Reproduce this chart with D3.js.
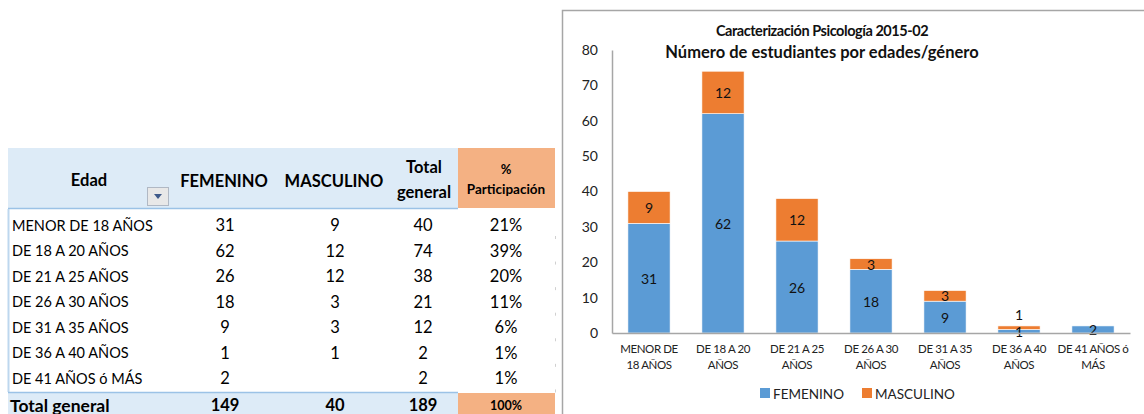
<!DOCTYPE html>
<html><head><meta charset="utf-8">
<script src="https://cdn.jsdelivr.net/npm/d3@7"></script>
<style>
html,body{margin:0;padding:0;background:#fff;}
svg{display:block;font-family:Lato,"Open Sans",sans-serif;}
</style></head>
<body><svg id="c" width="1144" height="414"></svg>
<script>
const categories = ["MENOR DE 18 AÑOS","DE 18 A 20 AÑOS","DE 21 A 25 AÑOS","DE 26 A 30 AÑOS","DE 31 A 35 AÑOS","DE 36 A 40 AÑOS","DE 41 AÑOS ó MÁS"];
const axisLabels = [["MENOR DE","18 AÑOS"],["DE 18 A 20","AÑOS"],["DE 21 A 25","AÑOS"],["DE 26 A 30","AÑOS"],["DE 31 A 35","AÑOS"],["DE 36 A 40","AÑOS"],["DE 41 AÑOS ó","MÁS"]];
const femenino = [31,62,26,18,9,1,2];
const masculino = [9,12,12,3,3,1,0];
const masculinoText = ["9","12","12","3","3","1",""];
const totals = [40,74,38,21,12,2,2];
const participacion = ["21%","39%","20%","11%","6%","1%","1%"];
const totalRow = ["Total general","149","40","189","100%"];
const yTicks = [0,10,20,30,40,50,60,70,80];
const seriesNames = ["FEMENINO","MASCULINO"];
const colors = ["#5B9BD5","#ED7D31"];

const svg = d3.select("#c");

// ---------- TABLE ----------
const t = svg.append("g");
const colX = {edad:12, fem:225, mas:335, tot:423, pct:506};
const rowY = d3.scaleLinear().domain([0,7]).range([225,404]);
t.append("rect").attr("x",8).attr("y",148).attr("width",450).attr("height",60).attr("fill","#DDEBF7");
t.append("rect").attr("x",458).attr("y",148).attr("width",97).attr("height",60).attr("fill","#F4B183");
t.append("line").attr("x1",8).attr("x2",458).attr("y1",208.5).attr("y2",208.5).attr("stroke","#9BC2E6").attr("stroke-width",1.5);
function txt(g,x,y,s,size,anchor,bold){
  return g.append("text").attr("x",x).attr("y",y).attr("text-anchor",anchor).attr("dominant-baseline","central")
   .attr("font-size",size).attr("font-weight",bold?"bold":"normal").attr("fill","#000").text(s);
}
txt(t,89,180,"Edad",16.5,"middle",true);
txt(t,224,181,"FEMENINO",16.5,"middle",true);
txt(t,334,181,"MASCULINO",16.5,"middle",true);
txt(t,424,167,"Total",16.5,"middle",true);
txt(t,424,192,"general",16.5,"middle",true);
txt(t,colX.pct,169,"%",13,"middle",true);
txt(t,colX.pct,189,"Participación",13.5,"middle",true);
t.append("rect").attr("x",147.5).attr("y",187.5).attr("width",21).attr("height",18).attr("fill","#E8E8E8").attr("stroke","#B0B8C4");
t.append("path").attr("d","M154,194 L162,194 L158,199 Z").attr("fill","#3E5A8A");
t.append("line").attr("x1",8.5).attr("x2",8.5).attr("y1",209).attr("y2",392).attr("stroke","#BDD7EE").attr("stroke-width",2);
categories.forEach((c,i)=>{
  const y = rowY(i);
  txt(t,colX.edad,y,c,14.5,"start",false);
  txt(t,colX.fem,y,femenino[i],16.5,"middle",false);
  if (masculinoText[i]!=="") txt(t,colX.mas,y,masculinoText[i],16.5,"middle",false);
  txt(t,colX.tot,y,totals[i],16.5,"middle",false);
  txt(t,colX.pct,y,participacion[i],16.5,"middle",false);
  t.append("line").attr("x1",555.5).attr("x2",555.5).attr("y1",y+11).attr("y2",y+14).attr("stroke","#D0D0D0");
});
t.append("rect").attr("x",8).attr("y",393).attr("width",450).attr("height",21).attr("fill","#DDEBF7");
t.append("rect").attr("x",458).attr("y",393).attr("width",97).attr("height",21).attr("fill","#F4B183");
t.append("line").attr("x1",8).attr("x2",458).attr("y1",392.5).attr("y2",392.5).attr("stroke","#9BC2E6").attr("stroke-width",1.5);
txt(t,10,405,totalRow[0],17.5,"start",true);
txt(t,colX.fem,405,totalRow[1],16.5,"middle",true);
txt(t,colX.mas,405,totalRow[2],16.5,"middle",true);
txt(t,colX.tot,405,totalRow[3],16.5,"middle",true);
txt(t,colX.pct,405,totalRow[4],12.5,"middle",true);

// ---------- CHART ----------
svg.append("path").attr("d","M562.5,420 L562.5,10.5 L1150,10.5").attr("fill","none").attr("stroke","#A6A6A6").attr("stroke-width",1.5);
const x = d3.scaleBand().domain(categories).range([612,1130]).paddingInner(0.43).paddingOuter(0.215);
const y = d3.scaleLinear().domain([0,80]).range([333,50]);

const stack = d3.stack().keys([0,1]).value((d,k)=> k===0?d.f:d.m);
const rows = categories.map((c,i)=>({c, f:femenino[i], m:masculino[i]}));
const layers = stack(rows);
const cg = svg.append("g");
layers.forEach((layer,k)=>{
  cg.selectAll(null).data(layer).enter().append("rect")
    .attr("x",d=>x(d.data.c)).attr("width",x.bandwidth())
    .attr("y",d=>y(d[1])).attr("height",d=>y(d[0])-y(d[1]))
    .attr("fill",colors[k]).attr("stroke","#fff").attr("stroke-width",0.6);
});
const ya = svg.append("g").attr("transform","translate(612,0)")
  .call(d3.axisLeft(y).tickValues(yTicks).tickSize(0).tickPadding(14));
ya.select(".domain").attr("stroke","#A6A6A6").attr("stroke-width",1.5);
ya.selectAll("text").attr("font-size",14).attr("fill","#222").attr("font-family","Lato,'Open Sans',sans-serif");
const xa = svg.append("g").attr("transform","translate(0,333)")
  .call(d3.axisBottom(x).tickSize(0).tickFormat(""));
xa.select(".domain").attr("stroke","#A6A6A6").attr("stroke-width",1.5);
xa.selectAll(".tick").each(function(d,i){
  const tt = d3.select(this).append("text").attr("fill","#222").attr("font-size",11.5).attr("text-anchor","middle")
    .attr("letter-spacing","-0.4").attr("font-family","Lato,'Open Sans',sans-serif");
  axisLabels[i].forEach((l,j)=> tt.append("tspan").attr("x",0).attr("y",20+j*16).text(l));
});
categories.forEach((c,i)=>{
  const cx = x(c)+x.bandwidth()/2;
  txt(cg,cx,y(femenino[i]/2),femenino[i],14,"middle",false).attr("fill","#111");
  if (masculinoText[i]!==""){
    let yy = y(femenino[i]+masculino[i]/2);
    if (masculino[i]<2) yy = y(femenino[i]+masculino[i]) - 11;
    txt(cg,cx,yy,masculinoText[i],14,"middle",false).attr("fill","#111");
  }
});
svg.append("text").attr("x",822).attr("y",30).attr("text-anchor","middle").attr("dominant-baseline","central")
  .attr("font-size",14.5).attr("font-weight","bold").attr("letter-spacing","-0.45").attr("fill","#111").text("Caracterización Psicología 2015-02");
svg.append("text").attr("x",822).attr("y",52).attr("text-anchor","middle").attr("dominant-baseline","central")
  .attr("font-size",16.5).attr("font-weight","bold").attr("fill","#111").text("Número de estudiantes por edades/género");
const lg = svg.append("g");
const lx = [760,862];
seriesNames.forEach((s,k)=>{
  lg.append("rect").attr("x",lx[k]).attr("y",388).attr("width",10).attr("height",10).attr("fill",colors[k]);
  txt(lg,lx[k]+13,394,s,13.5,"start",false).attr("fill","#222");
});
</script></body></html>
